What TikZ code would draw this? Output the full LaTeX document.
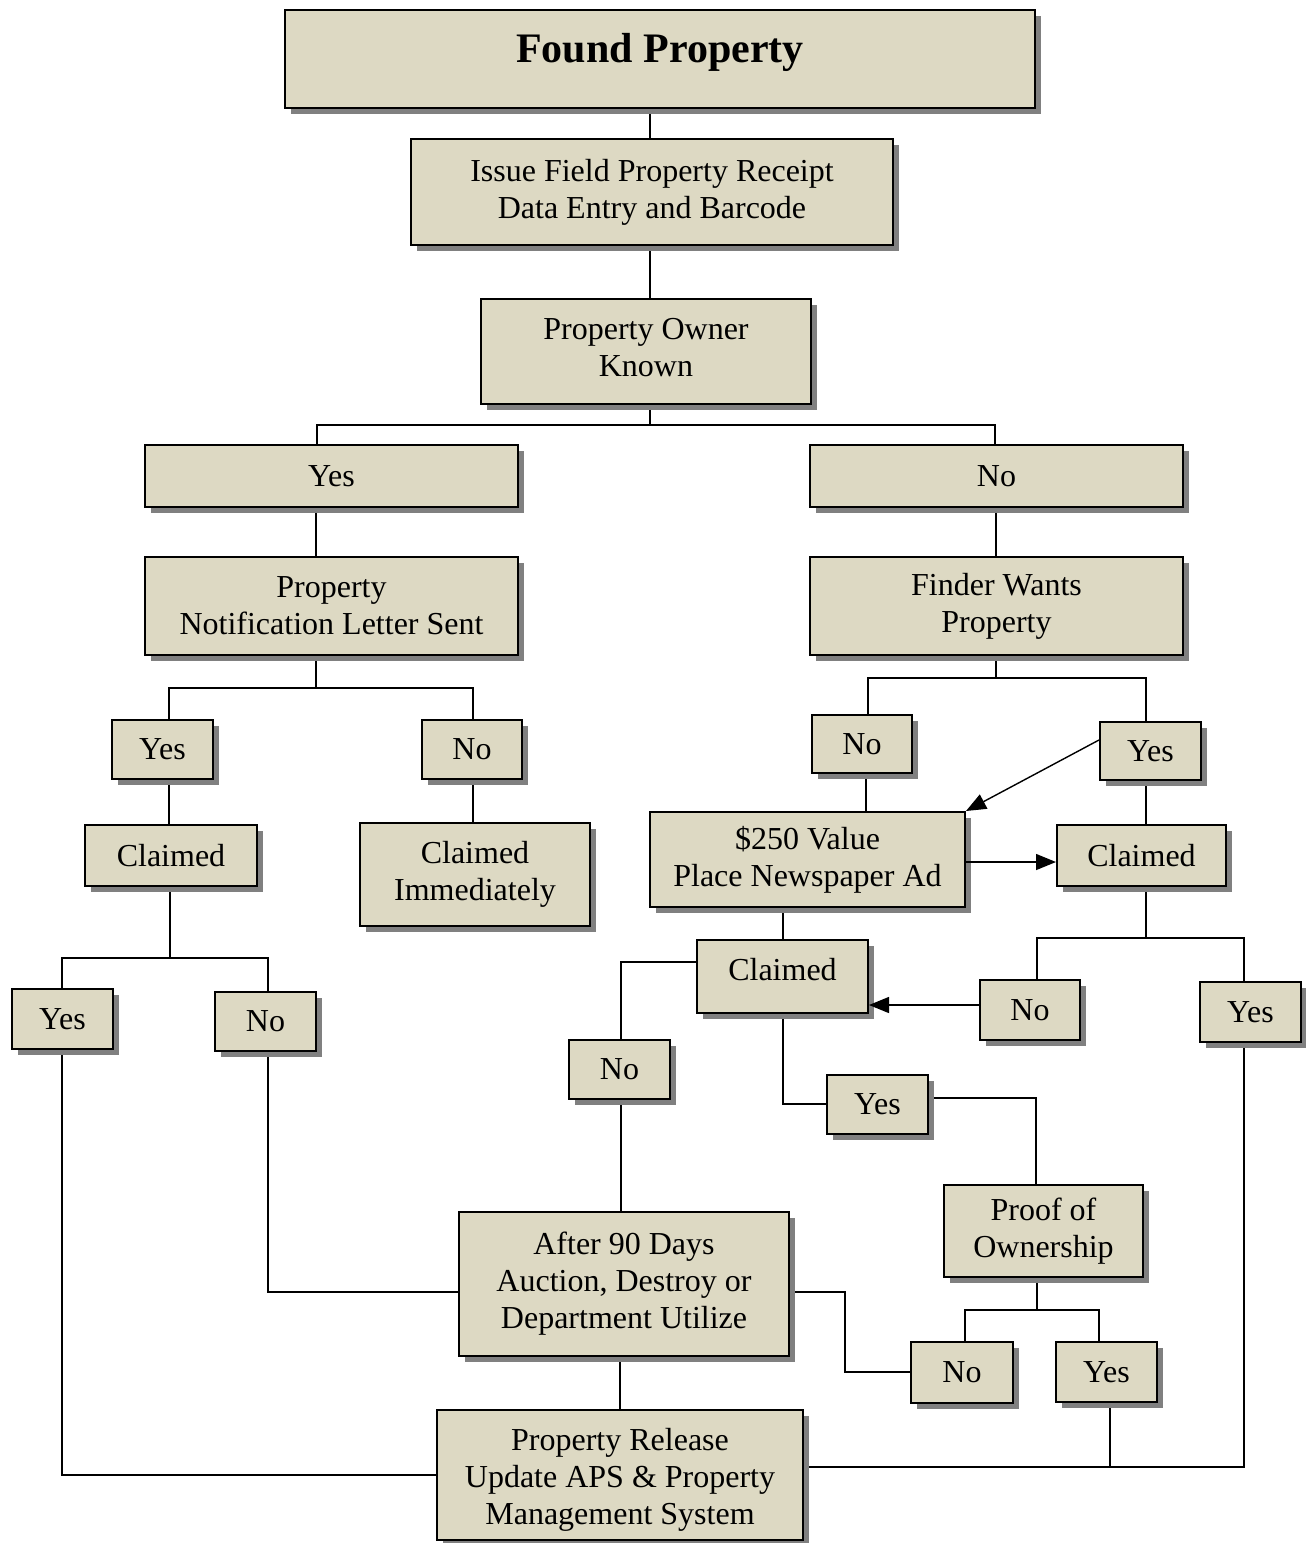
\documentclass[tikz,border=0pt]{standalone}
\usepackage{fontspec}
\setmainfont{Liberation Serif}
\usetikzlibrary{arrows.meta,shadows,calc}
\pgfdeclarelayer{background}
\pgfsetlayers{background,main}
\definecolor{boxfill}{HTML}{DDD9C3}
\definecolor{shade}{HTML}{808080}
\tikzset{
  bx/.style={draw=black, line width=2pt, fill=boxfill, inner sep=0pt, align=center,
    font=\fontsize{32}{37}\selectfont,
    drop shadow={shadow xshift=6pt, shadow yshift=-6pt, fill=shade, opacity=1}},
  conn/.style={draw=black, line width=1.4pt},
  arr/.style={conn, -{Triangle[length=20pt,width=16pt]}}
}
\newcommand{\bx}[7][]{%
  \node[bx, minimum width={(#4-#2)*1pt}, minimum height={(#5-#3)*1pt}, #1] (#6) at ({(#2+#4)/2},{(#3+#5)/2}) {#7};}
\begin{document}
\begin{tikzpicture}[x=1pt,y=-1pt]
\useasboundingbox (0,0) rectangle (1306,1543);
% boxes
\bx[font=\fontsize{42}{48}\selectfont\bfseries, text height=29pt, text depth=22pt]{285}{10}{1035}{108}{fp}{Found Property}
\bx{411}{139}{893}{245}{iss}{Issue Field Property Receipt\\Data Entry and Barcode}
\bx{481}{299}{811}{404}{own}{Property Owner\\Known\rule[-8pt]{0pt}{8pt}}
\bx{145}{445}{518}{507}{yesA}{Yes}
\bx{810}{445}{1183}{507}{noA}{No}
\bx{145}{557}{518}{655}{pnls}{Property\\Notification Letter Sent}
\bx{810}{557}{1183}{655}{fwp}{Finder Wants\\Property}
\bx{112}{720}{213}{779}{yesB}{Yes}
\bx{422}{720}{522}{779}{noB}{No}
\bx{85}{825}{257}{886}{clA}{Claimed}
\bx{360}{823}{590}{926}{cli}{Claimed\\Immediately}
\bx{812}{715}{912}{773}{noC}{No}
\bx{1100}{722}{1201}{780}{yesC}{Yes}
\bx{650}{812}{965}{907}{val}{\$250 Value\\Place Newspaper Ad}
\bx{1057}{825}{1226}{886}{clR}{Claimed}
\bx[text height=22pt, text depth=14pt]{697}{940}{868}{1013}{clM}{Claimed}
\bx{12}{989}{113}{1049}{yesD}{Yes}
\bx{215}{992}{316}{1051}{noD}{No}
\bx{569}{1040}{670}{1099}{noE}{No}
\bx{980}{980}{1080}{1040}{noF}{No}
\bx{1200}{982}{1301}{1042}{yesF}{Yes}
\bx{827}{1075}{928}{1134}{yesG}{Yes}
\bx{944}{1185}{1143}{1277}{proof}{Proof of\\Ownership}
\bx{459}{1212}{789}{1356}{after}{After 90 Days\\Auction, Destroy or\\Department Utilize}
\bx{911}{1342}{1013}{1403}{noH}{No}
\bx{1056}{1342}{1157}{1402}{yesH}{Yes}
\bx{437}{1410}{803}{1540}{rel}{\rule{0pt}{32pt}Property Release\\Update APS \& Property\\Management System}
% connectors
\begin{pgfonlayer}{background}
\draw[conn] (fp.south -| 650,0) -- (iss.north -| 650,0);
\draw[conn] (iss.south -| 650,0) -- (own.north -| 650,0);
\draw[conn] (own.south -| 650,0) -- (650,425);
\draw[conn] (yesA.north -| 317,0) |- (650,425) -| (noA.north -| 995,0);
\draw[conn] (yesA.south -| 316,0) -- (pnls.north -| 316,0);
\draw[conn] (noA.south -| 996,0) -- (fwp.north -| 996,0);
\draw[conn] (pnls.south -| 316,0) -- (316,688);
\draw[conn] (yesB.north -| 169,0) |- (316,688) -| (noB.north -| 473,0);
\draw[conn] (yesB.south -| 169,0) -- (clA.north -| 169,0);
\draw[conn] (noB.south -| 473,0) -- (cli.north -| 473,0);
\draw[conn] (clA.south -| 170,0) -- (170,958);
\draw[conn] (yesD.north -| 62,0) |- (170,958) -| (noD.north -| 268,0);
\draw[conn] (yesD.south -| 62,0) |- (rel.west |- 0,1475);
\draw[conn] (noD.south -| 268,0) |- (after.west |- 0,1292);
\draw[conn] (fwp.south -| 996,0) -- (996,678);
\draw[conn] (noC.north -| 868,0) |- (996,678) -| (yesC.north -| 1146,0);
\draw[conn] (noC.south -| 866,0) -- (val.north -| 866,0);
\draw[conn] (yesC.south -| 1146,0) -- (clR.north -| 1146,0);
\draw[conn] (clR.south -| 1146,0) -- (1146,938);
\draw[conn] (noF.north -| 1037,0) |- (1146,938) -| (yesF.north -| 1244,0);
\draw[conn] (val.south -| 783,0) -- (clM.north -| 783,0);
\draw[conn] (clM.west |- 0,962) -| (noE.north -| 621,0);
\draw[conn] (clM.south -| 783,0) |- (yesG.west |- 0,1104);
\draw[conn] (yesG.east |- 0,1098) -| (proof.north -| 1036,0);
\draw[conn] (noE.south -| 621,0) -- (after.north -| 621,0);
\draw[conn] (proof.south -| 1037,0) -- (1037,1310);
\draw[conn] (noH.north -| 965,0) |- (1037,1310) -| (yesH.north -| 1099,0);
\draw[conn] (after.east |- 0,1292) -- (845,1292) |- (noH.west |- 0,1372);
\draw[conn] (after.south -| 620,0) -- (rel.north -| 620,0);
\draw[conn] (yesH.south -| 1110,0) -- (1110,1467);
\draw[conn] (yesF.south -| 1244,0) |- (rel.east |- 0,1467);
\end{pgfonlayer}
% arrows
\draw[arr] (yesC.west |- 0,740) -- (val.north east);
\draw[arr] (val.east |- 0,862) -- (clR.west |- 0,862);
\draw[arr] (noF.west |- 0,1005) -- (clM.east |- 0,1005);
\end{tikzpicture}
\end{document}
